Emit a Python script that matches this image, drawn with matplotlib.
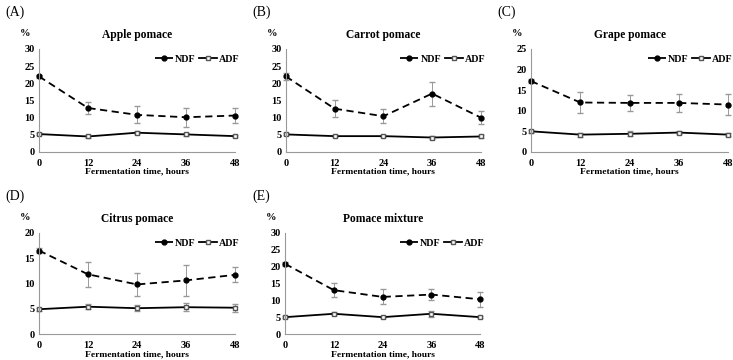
import matplotlib
matplotlib.use("Agg")
import matplotlib.pyplot as plt
from matplotlib.lines import Line2D

plt.rcParams['font.family'] = ['Liberation Serif', 'DejaVu Serif']

hours = [0, 12, 24, 36, 48]
titles = ["Apple pomace", "Carrot pomace", "Grape pomace", "Citrus pomace", "Pomace mixture"]
letters = ["(A)", "(B)", "(C)", "(D)", "(E)"]
xlabels = ["Fermentation time, hours", "Fermentation time, hours", "Fermetation time, hours",
           "Fermentation time, hours", "Fermentation time, hours"]
ymax = [30, 30, 25, 20, 30]

ndf_apple = [22.0, 12.8, 10.8, 10.1, 10.6]
ndf_apple_err = [0.4, 1.7, 2.5, 2.8, 2.2]
adf_apple = [5.2, 4.5, 5.6, 5.1, 4.6]
adf_apple_err = [0.3, 0.3, 0.4, 0.4, 0.3]

ndf_carrot = [22.0, 12.6, 10.4, 17.0, 10.0]
ndf_carrot_err = [1.0, 2.5, 2.0, 3.5, 2.0]
adf_carrot = [5.1, 4.6, 4.6, 4.2, 4.5]
adf_carrot_err = [0.3, 0.3, 0.3, 0.4, 0.3]

ndf_grape = [17.2, 12.0, 11.9, 11.9, 11.5]
ndf_grape_err = [0.5, 2.6, 2.0, 2.1, 2.6]
adf_grape = [5.0, 4.2, 4.4, 4.7, 4.2]
adf_grape_err = [0.4, 0.5, 0.6, 0.4, 0.4]

ndf_citrus = [16.5, 11.8, 9.8, 10.6, 11.7]
ndf_citrus_err = [0.5, 2.5, 2.3, 3.1, 1.5]
adf_citrus = [4.9, 5.4, 5.1, 5.3, 5.2]
adf_citrus_err = [0.3, 0.5, 0.6, 0.8, 0.8]

ndf_mix = [20.8, 13.0, 11.0, 11.7, 10.3]
ndf_mix_err = [0.5, 2.1, 2.2, 1.6, 2.3]
adf_mix = [5.0, 6.0, 5.0, 6.0, 5.0]
adf_mix_err = [0.3, 0.5, 0.4, 0.9, 0.4]

ndf = [ndf_apple, ndf_carrot, ndf_grape, ndf_citrus, ndf_mix]
ndf_err = [ndf_apple_err, ndf_carrot_err, ndf_grape_err, ndf_citrus_err, ndf_mix_err]
adf = [adf_apple, adf_carrot, adf_grape, adf_citrus, adf_mix]
adf_err = [adf_apple_err, adf_carrot_err, adf_grape_err, adf_citrus_err, adf_mix_err]

boxes = [
    [0.0532, 0.578, 0.2674, 0.286],
    [0.390, 0.578, 0.266, 0.286],
    [0.7244, 0.578, 0.269, 0.286],
    [0.0532, 0.0722, 0.2674, 0.281],
    [0.389, 0.0722, 0.266, 0.281],
]

ndf_style = dict(color='black', linestyle=(0, (4, 2.5)), linewidth=1.3, marker='o',
                 markersize=3.5)
adf_style = dict(color='black', linestyle='-', linewidth=1.3, marker='s', markersize=3.5,
                 markerfacecolor='white', markeredgecolor='#555555')

fig = plt.figure(figsize=(7.33, 3.6), dpi=100)

for i in range(5):
    ax = fig.add_axes(boxes[i])
    ax.errorbar(hours, ndf[i], yerr=ndf_err[i], ecolor='#999999', elinewidth=0.7,
                capsize=2, clip_on=False, **ndf_style)
    ax.errorbar(hours, adf[i], yerr=adf_err[i], ecolor='#999999', elinewidth=0.7,
                capsize=2, clip_on=False, **adf_style)
    ax.set_xlim(0, 48)
    ax.set_ylim(0, ymax[i])
    ax.set_xticks(hours)
    ax.set_yticks(range(0, ymax[i] + 1, 5))
    for s in ['top', 'right']:
        ax.spines[s].set_visible(False)
    for s in ['left', 'bottom']:
        ax.spines[s].set_color('#999999')
        ax.spines[s].set_linewidth(0.8)
    ax.tick_params(length=0, labelsize=7.5, pad=3)
    ax.tick_params(axis='x', pad=5)
    for lab in ax.get_xticklabels() + ax.get_yticklabels():
        lab.set_fontweight('bold')
    ax.set_xlabel(xlabels[i], fontsize=6.8, fontweight='bold', labelpad=0)
    ax.set_title(titles[i], fontsize=8.3, fontweight='bold', pad=8)
    ax.text(-0.07, 1.15, '%', transform=ax.transAxes, fontsize=7.5, fontweight='bold',
            ha='center', va='center')
    ax.text(-0.17, 1.36, letters[i], transform=ax.transAxes, fontsize=10,
            ha='left', va='center')
    handles = [Line2D([], [], **ndf_style), Line2D([], [], **adf_style)]
    leg = ax.legend(handles, ['NDF', 'ADF'], loc='upper right', ncol=2, frameon=False,
                    fontsize=7.2, handlelength=1.8, columnspacing=0.4, handletextpad=0.2,
                    borderaxespad=0.1, bbox_to_anchor=(1.05, 0.99))
    for t in leg.get_texts():
        t.set_fontweight('bold')

fig.savefig('out.png', dpi=100)
